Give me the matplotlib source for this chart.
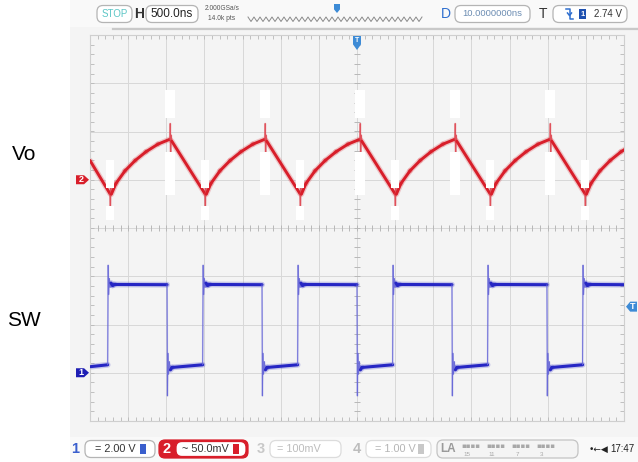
import numpy as np
import matplotlib.pyplot as plt
from matplotlib.collections import LineCollection
from matplotlib.patches import Rectangle, FancyBboxPatch, Polygon

W, H = 638, 462
plt.rcParams['font.family'] = ['Liberation Sans', 'DejaVu Sans']

# scope settings
t_div = 0.5          # us per div (H 500.0ns)
ch1_scale = 2.0      # V per div
ch2_scale = 50.0     # mV per div
ch1_offset = -3.0    # div
ch2_offset = 1.0     # div
trig_level_v = 2.74

# SW (channel 1): edge times in us
sw_rise_us = [-3.265, -2.020, -0.775, 0.470, 1.715, 2.960]
sw_fall_us = [-2.490, -1.245, 0.000, 1.245, 2.490]
sw_start_v = 0.25
sw_high_v = 3.65
# ringing around each edge (ns from the edge, V)
rise_ring_ns = [-3, 3, 9, 17, 27, 40, 60, 85]
rise_ring_v = [0.33, 4.45, 3.25, 3.90, 3.55, 3.72, 3.62, 3.66]
fall_ring_ns = [0, 5, 11, 19, 30, 45, 65]
fall_ring_v = [3.65, -0.95, 0.80, -0.05, 0.45, 0.12, 0.22]

# Vo (channel 2): valleys and peaks in us
vo_min_us = [-3.238, -1.993, -0.747, 0.498, 1.744, 2.989]
vo_peak_us = [-2.452, -1.207, 0.039, 1.284, 2.530]
vo_start_mv = 20.0
vo_min_mv = -14.5
vo_peak_mv = 42.0
# charging curve from valley to peak (share of time, share of swing)
rise_share_t = [0.10, 0.25, 0.42, 0.60, 0.80]
rise_share_v = [0.19, 0.42, 0.61, 0.77, 0.91]
# switching spikes (ns from the point, mV)
min_spike_ns = [0, 5, 10, 18]
min_spike_mv = [-14.5, -35.0, -7.0, -15.0]
peak_spike_ns = [0, 4, 9, 15, 24]
peak_spike_mv = [42.0, 58.0, 18.0, 46.0, 40.0]

# ---- build traces
sw_t, sw_v = [-3.5], [sw_start_v]
for i, r in enumerate(sw_rise_us):
    sw_t += [r + d / 1000 for d in rise_ring_ns]
    sw_v += rise_ring_v
    if i < len(sw_fall_us):
        f = sw_fall_us[i]
        sw_t += [f + d / 1000 for d in fall_ring_ns]
        sw_v += fall_ring_v
sw_t.append(3.5)
sw_v.append(sw_high_v)

rise_len = vo_peak_us[0] - vo_min_us[0]
vo_t, vo_v = [-3.5], [vo_start_mv]
for i, m in enumerate(vo_min_us):
    vo_t += [m + d / 1000 for d in min_spike_ns]
    vo_v += min_spike_mv
    p = vo_peak_us[i] if i < len(vo_peak_us) else m + rise_len
    vo_t += [m + s * (p - m) for s in rise_share_t]
    vo_v += [vo_min_mv + s * (vo_peak_mv - vo_min_mv) for s in rise_share_v]
    vo_t += [p + d / 1000 for d in peak_spike_ns]
    vo_v += peak_spike_mv

sw_y = np.array(sw_v) / ch1_scale + ch1_offset
vo_y = np.array(vo_v) / ch2_scale + ch2_offset

fig = plt.figure(figsize=(W / 100, H / 100), dpi=100)
fig.patch.set_facecolor('white')

bg = fig.add_axes([0, 0, 1, 1], zorder=0)
bg.set_xlim(0, W)
bg.set_ylim(H, 0)
bg.axis('off')
bg.add_patch(Rectangle((70, 0), W - 70, H, facecolor='#f4f4f4', edgecolor='none'))
bg.add_patch(Rectangle((70, 0), W - 70, 27, facecolor='#f9f9f9', edgecolor='none'))
bg.add_patch(Rectangle((70, 437), W - 70, 25, facecolor='#f9f9f9', edgecolor='none'))
bg.plot([113, W], [28.5, 28.5], color='#c9c9c9', lw=1.6)

ax = fig.add_axes([90 / W, (H - 421) / H, 534 / W, 386 / H], zorder=1)
ax.set_facecolor('#f4f4f4')
ax.set_xlim(-3.5, 3.5)
ax.set_ylim(-4, 4)
for xg in np.arange(-3.0, 3.01, 0.5):
    ax.axvline(xg, color='#d8d8d8', lw=0.7, zorder=0)
for yg in range(-3, 4):
    ax.axhline(yg, color='#d8d8d8', lw=0.7, zorder=0)
ax.set_xticks([])
ax.set_yticks([])
ax.set_xticks(np.arange(-3.5, 3.51, 0.1), minor=True)
ax.set_yticks(np.arange(-4, 4.01, 0.2), minor=True)
ax.tick_params(which='minor', direction='in', length=3, color='#b8b8b8',
               top=True, right=True, labelbottom=False, labelleft=False)
for s in ax.spines.values():
    s.set_color('#cfcfcf')
    s.set_linewidth(0.8)
# ticks on centre cross
ax.hlines(np.arange(-4, 4.01, 0.2), -0.04, 0.04, color='#b8b8b8', lw=0.7, zorder=0)
ax.vlines(np.arange(-3.5, 3.51, 0.1), -0.065, 0.065, color='#b8b8b8', lw=0.7, zorder=0)


def trace(t, y, color, thin_color, thick, thin):
    t = np.asarray(t)
    pts = np.column_stack([t, y])
    segs = np.stack([pts[:-1], pts[1:]], axis=1)
    dx = np.diff(t) / t_div * 38.14
    dy = np.diff(y) * 48.25
    steep = np.abs(dy) > 4 * np.abs(dx)
    widths = np.where(steep, thin, thick)
    cols = [thin_color if s else color for s in steep]
    ax.add_collection(LineCollection(segs, linewidths=widths * 1.9, colors=cols, alpha=0.22,
                                     capstyle='round', zorder=2))
    ax.add_collection(LineCollection(segs, linewidths=widths, colors=cols,
                                     capstyle='round', joinstyle='round', zorder=3))


trace(vo_t, vo_y, '#d81e2a', '#e0505a', 2.1, 0.8)
trace(sw_t, sw_y, '#2626c4', '#6a6ad8', 2.2, 0.7)

# white spots painted over the spikes on the screenshot
for p in vo_peak_us:
    ax.add_patch(Rectangle((p - 0.06, 2.28), 0.13, 0.58, facecolor='white', edgecolor='none', zorder=4))
    ax.add_patch(Rectangle((p - 0.06, 0.68), 0.13, 0.9, facecolor='white', edgecolor='none', zorder=4))
for m in vo_min_us:
    ax.add_patch(Rectangle((m - 0.05, 0.83), 0.1, 0.58, facecolor='white', edgecolor='none', zorder=4))
    ax.add_patch(Rectangle((m - 0.05, 0.17), 0.1, 0.29, facecolor='white', edgecolor='none', zorder=4))

fg = fig.add_axes([0, 0, 1, 1], zorder=2)
fg.set_xlim(0, W)
fg.set_ylim(H, 0)
fg.axis('off')


def tag(x0, yc, w, h, point, color, label, fs=6.5):
    if point == 'right':
        v = [(x0, yc - h / 2), (x0 + w * 0.62, yc - h / 2), (x0 + w, yc),
             (x0 + w * 0.62, yc + h / 2), (x0, yc + h / 2)]
        tx, ty = x0 + w * 0.38, yc
    elif point == 'left':
        v = [(x0 + w, yc - h / 2), (x0 + w * 0.38, yc - h / 2), (x0, yc),
             (x0 + w * 0.38, yc + h / 2), (x0 + w, yc + h / 2)]
        tx, ty = x0 + w * 0.62, yc
    else:
        v = [(x0 - w / 2, yc), (x0 + w / 2, yc), (x0 + w / 2, yc + h * 0.6),
             (x0, yc + h), (x0 - w / 2, yc + h * 0.6)]
        tx, ty = x0, yc + h * 0.33
    fg.add_patch(Polygon(v, closed=True, facecolor=color, edgecolor='none'))
    fg.text(tx, ty, label, color='white', fontsize=fs, fontweight='bold',
            ha='center', va='center')


def box(x0, x1, yc, h, edge='#b4b4b4', face='white', lw=0.9):
    fg.add_patch(FancyBboxPatch((x0, yc - h / 2), x1 - x0, h,
                                boxstyle='round,pad=0,rounding_size=6',
                                facecolor=face, edgecolor=edge, lw=lw))


# channel and trigger markers
tag(76, ch2_offset * -48.25 + 228, 13, 9, 'right', '#d81e2a', '2')
tag(76, ch1_offset * -48.25 + 228, 13, 9, 'right', '#1e1eb4', '1')
tag(626, 228 - (trig_level_v / ch1_scale + ch1_offset) * 48.25, 11, 10, 'left', '#3d8bd6', 'T')
tag(357, 36, 8, 14, 'down', '#3d8bd6', 'T', fs=5)

# top bar
ty = 14
box(97, 132, ty, 17)
fg.text(114.5, ty, 'STOP', color='#5cc6c6', fontsize=7, ha='center', va='center')
fg.text(139.5, ty, 'H', color='#333333', fontsize=10, fontweight='bold', ha='center', va='center')
box(146, 198, ty, 17)
fg.text(172, ty, '500.0ns', color='#222222', fontsize=8.5, ha='center', va='center')
fg.text(222, 8, '2.000GSa/s', color='#555555', fontsize=4.8, ha='center', va='center')
fg.text(222, 19, '14.0k pts', color='#555555', fontsize=4.8, ha='center', va='center')
zx = np.arange(248, 424, 3.0)
zy = np.where(np.arange(len(zx)) % 2 == 0, 17, 21.5)
fg.plot(zx, zy, color='#8a8a8a', lw=0.7)
tag(337, 4, 6, 9, 'down', '#3d8bd6', '', fs=4)
fg.text(446, ty, 'D', color='#2f6fcf', fontsize=10, ha='center', va='center')
box(455, 530, ty, 17)
fg.text(492.5, ty, '10.0000000ns', color='#6c8db3', fontsize=6.8, ha='center', va='center')
fg.text(543, ty, 'T', color='#333333', fontsize=10, ha='center', va='center')
box(553, 627, ty, 17)
fg.plot([566, 569.5, 569.5, 573], [9, 9, 19, 19], color='#2f6fcf', lw=1.1)
fg.plot([567.5, 569.5, 571.5], [13, 15.5, 13], color='#2f6fcf', lw=1.1)
fg.add_patch(Rectangle((579, 9), 6.5, 10, facecolor='#1e50b0', edgecolor='none'))
fg.text(582.2, ty, '1', color='white', fontsize=5.5, fontweight='bold', ha='center', va='center')
fg.text(608, ty, '2.74 V', color='#333333', fontsize=7, ha='center', va='center')

# bottom bar
by = 449
fg.text(75.5, by, '1', color='#3a5fcd', fontsize=10.5, fontweight='bold', ha='center', va='center')
box(85, 155, by, 17)
fg.text(115, by, '= 2.00 V', color='#333333', fontsize=7.8, ha='center', va='center')
fg.add_patch(Rectangle((140, by - 5), 6, 10, facecolor='#3a5fcd', edgecolor='none'))
box(159, 248, by, 18, edge='#d81e2a', face='#d81e2a')
fg.text(167, by, '2', color='white', fontsize=10.5, fontweight='bold', ha='center', va='center')
box(176, 246, by, 15, edge='#d81e2a', face='white')
fg.text(205, by, '~ 50.0mV', color='#333333', fontsize=7.8, ha='center', va='center')
fg.add_patch(Rectangle((233, by - 5), 6, 10, facecolor='#d81e2a', edgecolor='none'))
fg.text(261, by, '3', color='#c8c8c8', fontsize=10.5, fontweight='bold', ha='center', va='center')
box(270, 341, by, 17, edge='#dcdcdc')
fg.text(299, by, '= 100mV', color='#bdbdbd', fontsize=7.8, ha='center', va='center')
fg.text(357, by, '4', color='#bdbdbd', fontsize=10.5, fontweight='bold', ha='center', va='center')
box(366, 431, by, 17, edge='#dcdcdc')
fg.text(395, by, '= 1.00 V', color='#b5b5b5', fontsize=7.8, ha='center', va='center')
fg.add_patch(Rectangle((418, by - 5), 6, 10, facecolor='#c8c8c8', edgecolor='none'))
box(437, 578, by, 18, edge='#c4c4c4', face='#f4f4f4')
fg.text(448.5, by, 'LA', color='#9a9a9a', fontsize=8.5, fontweight='bold', ha='center', va='center')
for gx, lab in zip([471, 496, 521, 546], ['15', '11', '7', '3']):
    fg.text(gx, by - 3, '\u25aa\u25aa\u25aa\u25aa', color='#a8a8a8', fontsize=5,
            family='DejaVu Sans', ha='center', va='center')
    fg.text(gx - 4, by + 5, lab, color='#a8a8a8', fontsize=4.5, ha='center', va='center')
fg.text(598, by, '\u2022\u2190\u25c0', color='#222222', fontsize=6.5, family='DejaVu Sans',
        ha='center', va='center')
fg.text(622, by, '17:47', color='#222222', fontsize=7, ha='center', va='center')

# labels beside the screen
fg.text(24, 154, 'Vo', color='black', fontsize=15, ha='center', va='center')
fg.text(23.5, 320, 'SW', color='black', fontsize=15, ha='center', va='center')

fig.savefig('out.png', dpi=100, facecolor=fig.get_facecolor())
